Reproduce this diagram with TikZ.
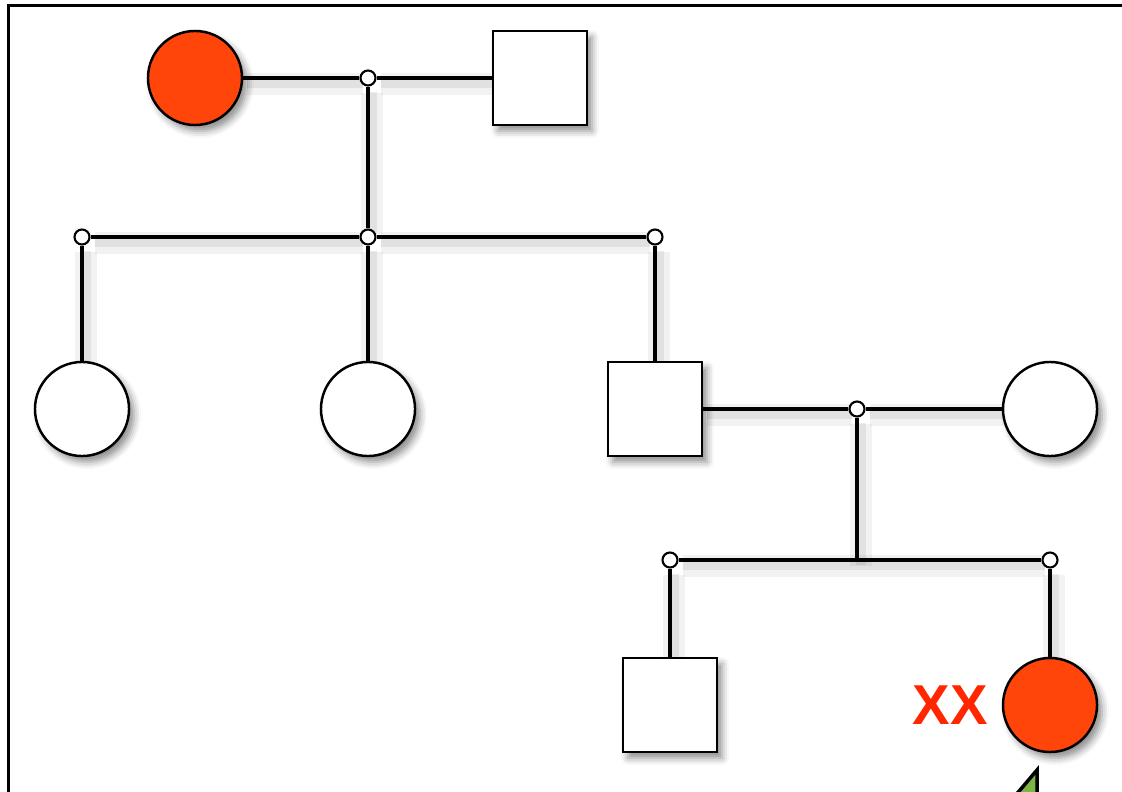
\documentclass[tikz,border=0pt]{standalone}
\usepackage{fontspec}
\setsansfont{Liberation Sans}
\usetikzlibrary{%
  shadows,%
  shadows.blur,%
  backgrounds}
\definecolor{rouge}{RGB}{255,69,10}
\definecolor{rougetexte}{RGB}{255,38,0}
\definecolor{vert}{RGB}{125,181,66}

\begin{document}
\begin{tikzpicture}[x=0.01cm,y=-0.01cm,
  ombre/.style={blur shadow={shadow xshift=0.05cm,shadow yshift=-0.06cm,shadow blur radius=0.07cm,shadow opacity=45}},
  femme/.style={circle,draw,line width=0.7pt,fill=white,minimum size=0.94cm,inner sep=0pt,ombre},
  homme/.style={rectangle,draw,line width=0.7pt,fill=white,minimum size=0.94cm,inner sep=0pt,ombre},
  atteinte/.style={femme,fill=rouge},
  point/.style={circle,draw,line width=0.6pt,fill=white,minimum size=0.15cm,inner sep=0pt},
  lien/.style={line width=1.1pt,
    preaction={draw,black,opacity=0.05,line width=6pt,transform canvas={shift={(0.04cm,-0.06cm)}}},
    preaction={draw,black,opacity=0.07,line width=3pt,transform canvas={shift={(0.04cm,-0.05cm)}}}}]
\useasboundingbox (0,0) rectangle (1122,791);
% cadre
\draw[line width=1pt] (8.5,800) -- (8.5,5.5) -- (1130,5.5);
% generation I
\node (F1) at (195,78) [atteinte] {};
\node (H1) at (540,78) [homme] {};
\node (M1) at (368,78) [point] {};
% generation II
\node (S1) at (368,237) [point] {};
\node (D1) at (82,237) [point] {};
\node (D3) at (655,237) [point] {};
\node (C1) at (82,409) [femme] {};
\node (C2) at (368,409) [femme] {};
\node (C3) at (655,409) [homme] {};
\node (W) at (1050,409) [femme] {};
\node (M2) at (857,409) [point] {};
% generation III
\coordinate (J) at (857,560);
\node (D4) at (670,560) [point] {};
\node (D5) at (1050,560) [point] {};
\node (C4) at (670,705) [homme] {};
\node (C5) at (1050,705) [atteinte] {};
\node (XX) at (950,705) {\sffamily\bfseries\fontsize{16pt}{16pt}\selectfont\color{rougetexte}XX};
% liens
\begin{pgfonlayer}{background}
\draw[lien] (F1) -- (M1) -- (H1);
\draw[lien] (M1) -- (S1);
\draw[lien] (D1) -- (S1) -- (D3);
\draw[lien] (D1) -- (C1);
\draw[lien] (S1) -- (C2);
\draw[lien] (D3) -- (C3);
\draw[lien] (C3) -- (M2) -- (W);
\draw[lien] (M2) -- (J);
\draw[lien] (D4) -- (D5);
\draw[lien] (D4) -- (C4);
\draw[lien] (D5) -- (C5);
\end{pgfonlayer}
% pointe verte
\draw[line width=1pt,fill=vert] (1037,770) -- (1037,810) -- (1003,810) -- cycle;
\end{tikzpicture}
\end{document}
